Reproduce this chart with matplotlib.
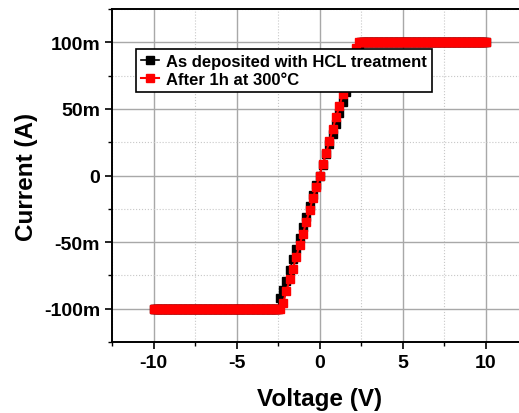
import numpy as np
import matplotlib.pyplot as plt
from matplotlib.ticker import MultipleLocator, FuncFormatter

# Sweep voltages (V) and currents (mA); compliance clamps at +/-100 mA
v_sat_neg = [-10.0, -9.9, -9.8, -9.7, -9.6, -9.5, -9.4, -9.3, -9.2, -9.1,
             -9.0, -8.9, -8.8, -8.7, -8.6, -8.5, -8.4, -8.3, -8.2, -8.1,
             -8.0, -7.9, -7.8, -7.7, -7.6, -7.5, -7.4, -7.3, -7.2, -7.1,
             -7.0, -6.9, -6.8, -6.7, -6.6, -6.5, -6.4, -6.3, -6.2, -6.1,
             -6.0, -5.9, -5.8, -5.7, -5.6, -5.5, -5.4, -5.3, -5.2, -5.1,
             -5.0, -4.9, -4.8, -4.7, -4.6, -4.5, -4.4, -4.3, -4.2, -4.1,
             -4.0, -3.9, -3.8, -3.7, -3.6, -3.5, -3.4, -3.3, -3.2, -3.1,
             -3.0, -2.9, -2.8, -2.7, -2.6, -2.5]
v_sat_pos = [2.5, 2.6, 2.7, 2.8, 2.9, 3.0, 3.1, 3.2, 3.3, 3.4,
             3.5, 3.6, 3.7, 3.8, 3.9, 4.0, 4.1, 4.2, 4.3, 4.4,
             4.5, 4.6, 4.7, 4.8, 4.9, 5.0, 5.1, 5.2, 5.3, 5.4,
             5.5, 5.6, 5.7, 5.8, 5.9, 6.0, 6.1, 6.2, 6.3, 6.4,
             6.5, 6.6, 6.7, 6.8, 6.9, 7.0, 7.1, 7.2, 7.3, 7.4,
             7.5, 7.6, 7.7, 7.8, 7.9, 8.0, 8.1, 8.2, 8.3, 8.4,
             8.5, 8.6, 8.7, 8.8, 8.9, 9.0, 9.1, 9.2, 9.3, 9.4,
             9.5, 9.6, 9.7, 9.8, 9.9, 10.0]
v_mid = [-2.4, -2.2, -2.0, -1.8, -1.6, -1.4, -1.2, -1.0, -0.8, -0.6, -0.4, -0.2,
         0.0, 0.2, 0.4, 0.6, 0.8, 1.0, 1.2, 1.4, 1.6, 1.8, 2.0, 2.2, 2.4]

i_dep_mid = [-92, -86, -79, -71, -63, -55, -47, -39, -31, -23, -15, -7,
             0, 8, 16, 24, 31, 39, 47, 55, 63, 71, 79, 87, 96]
i_ann_mid = [-100, -96, -87, -78, -70, -61, -52, -44, -35, -26, -17, -9,
             0, 9, 17, 26, 35, 44, 52, 61, 70, 78, 87, 96, 100]

voltage = np.array(v_sat_neg + v_mid + v_sat_pos)
i_dep = np.array([-100] * len(v_sat_neg) + i_dep_mid + [100] * len(v_sat_pos)) / 1000
i_ann = np.array([-100] * len(v_sat_neg) + i_ann_mid + [100] * len(v_sat_pos)) / 1000

labels = ['As deposited with HCL treatment', 'After 1h at 300\u00b0C']

plt.rcParams['font.family'] = ['Liberation Sans', 'DejaVu Sans']
plt.rcParams['font.weight'] = 'bold'
plt.rcParams['axes.unicode_minus'] = False

fig = plt.figure(figsize=(5.19, 4.14), dpi=100)
ax = fig.add_axes([112/519, 71/414, 415/519, 333/414])

ax.plot(voltage, i_dep, color='black', marker='s', markersize=5.5, lw=1.2,
        label=labels[0], zorder=3)
ax.plot(voltage, i_ann, color='red', marker='s', markersize=5.5, lw=1.5,
        label=labels[1], zorder=4)

ax.set_xlim(-12.5, 12.5)
ax.set_ylim(-0.125, 0.125)
ax.xaxis.set_major_locator(MultipleLocator(5))
ax.xaxis.set_minor_locator(MultipleLocator(2.5))
ax.yaxis.set_major_locator(MultipleLocator(0.05))
ax.yaxis.set_minor_locator(MultipleLocator(0.025))

def fmt_m(y, pos):
    v = int(round(y * 1000))
    return '0' if v == 0 else f'{v}m'

ax.yaxis.set_major_formatter(FuncFormatter(fmt_m))

ax.grid(which='major', color='#a8a8a8', lw=1.0, ls='-')
ax.grid(which='minor', color='#c8c8c8', lw=0.8, ls=':')
ax.set_axisbelow(True)

ax.tick_params(which='major', direction='out', length=5, width=1.2, labelsize=14)
ax.tick_params(which='minor', direction='out', length=3, width=1.0)
ax.tick_params(top=False, right=False, which='both')
for s in ax.spines.values():
    s.set_linewidth(1.4)

ax.set_xlabel('Voltage (V)', fontsize=17.5, fontweight='bold', labelpad=12)
ax.set_ylabel('Current (A)', fontsize=17.5, fontweight='bold', labelpad=4)

leg = ax.legend(loc='upper left', bbox_to_anchor=(0.058, 0.88), borderaxespad=0,
                fancybox=False, edgecolor='black', framealpha=1, fontsize=12,
                handlelength=1.1, handletextpad=0.4, borderpad=0.3,
                labelspacing=0.2, numpoints=1)
leg.get_frame().set_linewidth(1.2)

fig.savefig('out.png', dpi=100)
